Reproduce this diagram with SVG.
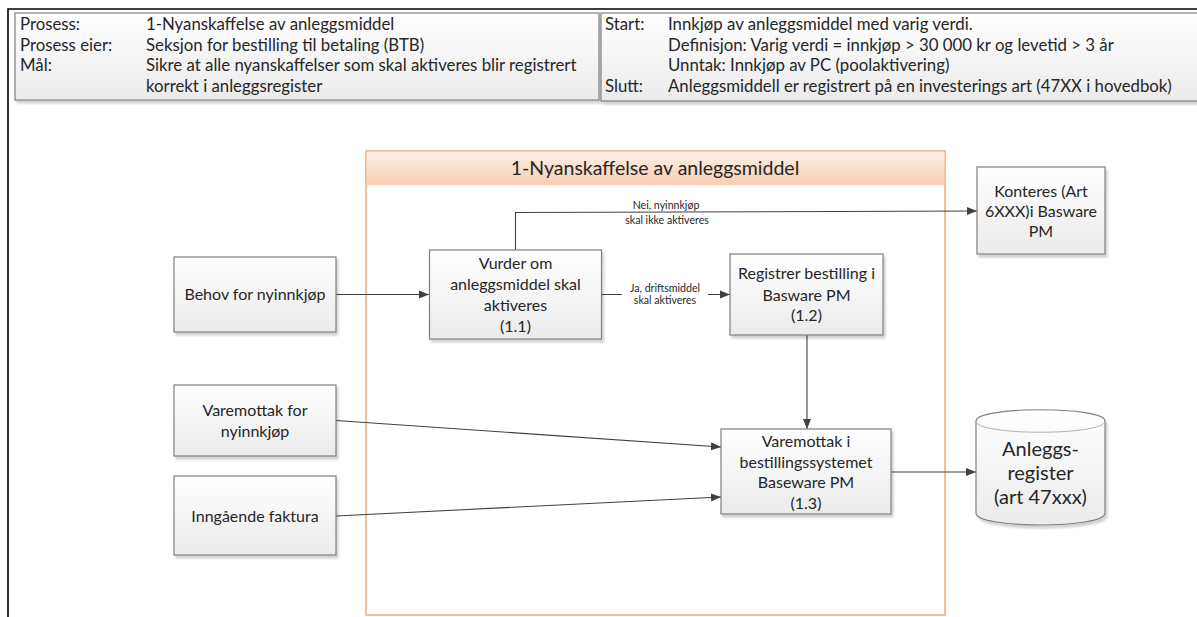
<svg xmlns="http://www.w3.org/2000/svg" width="1197" height="617" viewBox="0 0 1197 617">
<style>
text{font-family:Lato,"Liberation Sans",sans-serif;fill:#262626}
.hd{font-size:16.8px}
.nd{font-size:16px;text-anchor:middle}
.lb{font-size:10.6px;text-anchor:middle}
.box{fill:url(#g);stroke:#7f7f7f;stroke-width:1.2;filter:url(#sh)}
.cn{fill:none;stroke:#404040;stroke-width:1.1}
</style>
<defs>
<linearGradient id="g" x1="0" y1="0" x2="0" y2="1"><stop offset="0" stop-color="#ffffff"/><stop offset="1" stop-color="#ebebeb"/></linearGradient>
<linearGradient id="og" x1="0" y1="0" x2="0" y2="1"><stop offset="0" stop-color="#fdf1e8"/><stop offset="1" stop-color="#f8cdaf"/></linearGradient>
<filter id="sh" x="-10%" y="-10%" width="130%" height="130%"><feDropShadow dx="2" dy="3" stdDeviation="1.2" flood-color="#000" flood-opacity="0.18"/></filter>
<marker id="ar" viewBox="0 0 10 10" refX="10" refY="5" markerWidth="10" markerHeight="10" markerUnits="userSpaceOnUse" orient="auto"><path d="M0,1 L10,5 L0,9 Z" fill="#404040"/></marker>
</defs>
<rect width="1197" height="617" fill="#fff"/>
<g id="frame">
<path d="M8,617 V9 H1197" fill="none" stroke="#000" stroke-width="1.6"/>
</g>
<g id="header-left">
<rect class="box" x="15" y="13" width="584" height="87"/>
<text class="hd" x="20" y="30">Prosess:</text>
<text class="hd" x="146" y="30">1-Nyanskaffelse av anleggsmiddel</text>
<text class="hd" x="20" y="50.5">Prosess eier:</text>
<text class="hd" x="146" y="50.5">Seksjon for bestilling til betaling (BTB)</text>
<text class="hd" x="20" y="71">Mål:</text>
<text class="hd" x="146" y="71">Sikre at alle nyanskaffelser som skal aktiveres blir registrert</text>
<text class="hd" x="146" y="91.5">korrekt i anleggsregister</text>
</g>
<g id="header-right">
<rect class="box" x="601" y="13" width="600" height="88"/>
<text class="hd" x="605" y="30">Start:</text>
<text class="hd" x="668" y="30">Innkjøp av anleggsmiddel med varig verdi.</text>
<text class="hd" x="668" y="50.5">Definisjon: Varig verdi = innkjøp &gt; 30 000 kr og levetid &gt; 3 år</text>
<text class="hd" x="668" y="71">Unntak: Innkjøp av PC (poolaktivering)</text>
<text class="hd" x="605" y="91.5">Slutt:</text>
<text class="hd" x="668" y="91.5">Anleggsmiddell er registrert på en investerings art (47XX i hovedbok)</text>
</g>
<g id="lane">
<rect x="366" y="151" width="579" height="464" fill="#fff" stroke="#ee9a5e" stroke-width="1.3"/>
<rect x="366.7" y="151.7" width="577.6" height="33.5" fill="url(#og)"/>
<text x="655" y="175" font-size="19.5" text-anchor="middle">1-Nyanskaffelse av anleggsmiddel</text>
</g>
<g id="connectors">
<path class="cn" d="M336,294.5 H429" marker-end="url(#ar)"/>
<path class="cn" d="M601,294.5 H622 M708,294.5 H730" marker-end="url(#ar)"/>
<path class="cn" d="M515.5,250 V212.5 L977,211" marker-end="url(#ar)"/>
<path class="cn" d="M807,335 V429" marker-end="url(#ar)"/>
<path class="cn" d="M336,420.5 L721,447" marker-end="url(#ar)"/>
<path class="cn" d="M336,516 L721,497" marker-end="url(#ar)"/>
<path class="cn" d="M891,472 H976" marker-end="url(#ar)"/>
<text class="lb" x="665" y="292">Ja, driftsmiddel</text>
<text class="lb" x="665" y="304">skal aktiveres</text>
<text class="lb" x="666" y="209">Nei, nyinnkjøp</text>
<text class="lb" x="667" y="224">skal ikke aktiveres</text>
</g>
<g id="behov">
<rect class="box" x="174" y="257" width="162" height="75"/>
<text class="nd" x="255" y="300">Behov for nyinnkjøp</text>
</g>
<g id="vurder">
<rect class="box" x="429.5" y="250" width="172" height="89"/>
<text class="nd" x="515.5" y="269">Vurder om</text>
<text class="nd" x="515.5" y="290">anleggsmiddel skal</text>
<text class="nd" x="515.5" y="311">aktiveres</text>
<text class="nd" x="515.5" y="331.5">(1.1)</text>
</g>
<g id="registrer">
<rect class="box" x="730" y="254" width="153" height="81"/>
<text class="nd" x="806.5" y="279">Registrer bestilling i</text>
<text class="nd" x="806.5" y="300.5">Basware PM</text>
<text class="nd" x="806.5" y="321">(1.2)</text>
</g>
<g id="konteres">
<rect class="box" x="977" y="167" width="128" height="87"/>
<text class="nd" x="1041" y="197">Konteres (Art</text>
<text class="nd" x="1041" y="217">6XXX)i Basware</text>
<text class="nd" x="1041" y="237">PM</text>
</g>
<g id="varemottak-for">
<rect class="box" x="174" y="385" width="162" height="71"/>
<text class="nd" x="255" y="415.5">Varemottak for</text>
<text class="nd" x="255" y="437">nyinnkjøp</text>
</g>
<g id="inngaende">
<rect class="box" x="174" y="476" width="162" height="79"/>
<text class="nd" x="255" y="522">Inngående faktura</text>
</g>
<g id="varemottak-13">
<rect class="box" x="721" y="429" width="170" height="85"/>
<text class="nd" x="806" y="447">Varemottak i</text>
<text class="nd" x="806" y="467.5">bestillingssystemet</text>
<text class="nd" x="806" y="488">Baseware PM</text>
<text class="nd" x="806" y="508.5">(1.3)</text>
</g>
<g id="anleggsregister">
<path d="M976,421 C976,406 1105,406 1105,421 V513 C1105,529 976,529 976,513 Z" fill="url(#g)" stroke="#7f7f7f" stroke-width="1.2" filter="url(#sh)"/>
<path d="M976,421 C976,436 1105,436 1105,421" fill="none" stroke="#b0b0b0" stroke-width="1"/>
<text x="1040.5" y="456" font-size="20" text-anchor="middle">Anleggs-</text>
<text x="1040.5" y="480" font-size="20" text-anchor="middle">register</text>
<text x="1040.5" y="504" font-size="20" text-anchor="middle">(art 47xxx)</text>
</g>
</svg>
